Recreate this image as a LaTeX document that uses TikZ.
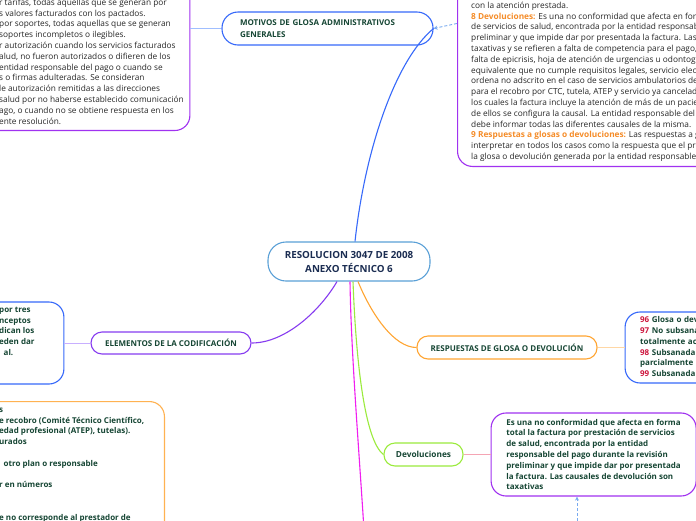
\documentclass[tikz,border=0pt]{standalone}
\usepackage{fontspec}
\setmainfont{Open Sans}
\usepackage{xcolor}
\usetikzlibrary{arrows.meta, positioning, calc}

\definecolor{txtgreen}{RGB}{22,70,52}
\definecolor{txtnavy}{RGB}{27,45,82}
\definecolor{txtgray}{RGB}{38,38,38}
\definecolor{hdorange}{RGB}{245,140,40}
\definecolor{numred}{RGB}{205,20,60}
\definecolor{rootblue}{RGB}{90,160,215}
\definecolor{mmblue}{RGB}{55,105,250}
\definecolor{mmviolet}{RGB}{135,60,240}
\definecolor{mmpurple}{RGB}{160,50,240}
\definecolor{mmmagenta}{RGB}{240,30,240}
\definecolor{mmgreen}{RGB}{155,235,60}
\definecolor{mmorange}{RGB}{255,165,50}
\definecolor{stubblue}{RGB}{160,190,255}
\definecolor{stubviolet}{RGB}{200,175,255}
\definecolor{stuborange}{RGB}{255,215,165}
\definecolor{stubpink}{RGB}{245,165,180}
\definecolor{linkblue}{RGB}{120,170,240}

\newcommand{\glosahd}[1]{\textcolor{hdorange}{\bfseries #1}}
\newcommand{\codenum}[1]{\textcolor{numred}{#1}}

\tikzset{
  rootnode/.style={rectangle, rounded corners=18pt, draw=rootblue, line width=1.1pt, fill=white,
                   minimum width=162pt, minimum height=39pt, align=center,
                   font=\fontsize{9.8}{14}\selectfont\bfseries, text=txtnavy},
  topic/.style={rectangle, rounded corners=11pt, line width=1.1pt, fill=white, minimum height=23pt,
                inner sep=2pt, font=\fontsize{8}{12}\selectfont\bfseries, text=txtgreen},
  card/.style={rectangle, rounded corners=15pt, line width=1.1pt, fill=white},
  cardtext/.style={inner sep=0pt, align=left, anchor=north west,
                   font=\fontsize{8}{10.8}\selectfont\bfseries, text=txtgreen},
  notetext/.style={inner sep=0pt, align=left, anchor=north west,
                   font=\fontsize{8.3}{10.8}\selectfont, text=txtgray},
  branch/.style={line width=1.1pt},
  stub/.style={line width=1pt},
  linkarrow/.style={densely dashed, draw=linkblue, line width=0.9pt, -{Stealth[length=4pt, width=4pt]}},
}

\begin{document}
\begin{tikzpicture}[x=1pt, y=-1pt]
  \useasboundingbox (0,0) rectangle (696,520);
  \fill[white] (0,0) rectangle (696,520);
  \clip (0,0) rectangle (696,520);

  % central topic and main branches
  \node[rootnode] (root) at (349,261.5) {RESOLUCION 3047 DE 2008\\ANEXO TÉCNICO 6};
  \node[topic, draw=mmblue, rounded corners=16pt, minimum width=211pt, minimum height=33pt,
        inner xsep=18pt, text width=175pt, align=left] (motivos) at (327.5,28.5)
        {MOTIVOS DE GLOSA ADMINISTRATIVOS\\GENERALES};
  \node[topic, draw=mmviolet, minimum width=160pt, minimum height=22pt] (elementos) at (171,343)
        {ELEMENTOS DE LA CODIFICACIÓN};
  \node[topic, draw=mmorange, minimum width=180pt] (respuestas) at (507,347.5)
        {RESPUESTAS DE GLOSA O DEVOLUCIÓN};
  \node[topic, draw=mmgreen, minimum width=79pt, font=\fontsize{8.3}{11}\selectfont\bfseries] (devol) at (423.5,454.5)
        {Devoluciones};

  % cards
  \node[card, draw=mmpurple, minimum width=441pt, minimum height=204pt, left=31pt of motivos] (tlbox) {};
  \node[card, draw=mmpurple, minimum width=400pt, minimum height=286pt, anchor=south west] (trbox) at (457,167) {};
  \node[card, draw=mmblue, minimum width=200pt, minimum height=82pt, left=26pt of elementos] (lbox) {};
  \node[card, draw=mmorange!85, minimum width=300pt, minimum height=200pt, anchor=north east] (blbox) at (165,401) {};
  \node[card, draw=mmblue, inner xsep=15pt, text width=260pt, minimum height=71pt, align=left,
        font=\fontsize{8}{10.8}\selectfont\bfseries, text=txtgreen, right=27pt of respuestas] (rbox)
        {\codenum{96} Glosa o devolución injustificada\\
         \codenum{97} No subsanada (Glosa o devolución\\
         totalmente aceptada)\\
         \codenum{98} Subsanada parcial (Glosa o devolución\\
         parcialmente aceptada)\\
         \codenum{99} Subsanada (Glosa o devolución no aceptada)};
  \node[card, draw=mmpurple, minimum width=205pt, minimum height=83pt, align=left,
        font=\fontsize{8}{10.8}\selectfont\bfseries, text=txtgreen, right=27pt of devol] (dbox)
        {Es una no conformidad que afecta en forma\\
         total la factura por prestación de servicios\\
         de salud, encontrada por la entidad\\
         responsable del pago durante la revisión\\
         preliminar y que impide dar por presentada\\
         la factura. Las causales de devolución son\\
         taxativas};

  % card texts cut by the frame
  \node[notetext] (tltext) at (-1,-2.4)
        {\strut r tarifas, todas aquellas que se generan por\\
         s valores facturados con los pactados.\\
         por soportes, todas aquellas que se generan\\
         soportes incompletos o ilegibles.\\
         r autorización cuando los servicios facturados\\
         alud, no fueron autorizados o difieren de los\\
         entidad responsable del pago o cuando se\\
         s o firmas adulteradas. Se consideran\\
         le autorización remitidas a las direcciones\\
         salud por no haberse establecido comunicación\\
         ago, o cuando no se obtiene respuesta en los\\
         ente resolución.};
  \node[notetext] (trtext) at (471,0.6)
        {\strut con la atención prestada.\\
         \glosahd{8 Devoluciones:} Es una no conformidad que afecta en forma\\
         de servicios de salud, encontrada por la entidad responsable\\
         preliminar y que impide dar por presentada la factura. Las causales\\
         taxativas y se refieren a falta de competencia para el pago, tales\\
         falta de epicrisis, hoja de atención de urgencias u odontograma\\
         equivalente que no cumple requisitos legales, servicio electivo\\
         ordena no adscrito en el caso de servicios ambulatorios de\\
         para el recobro por CTC, tutela, ATEP y servicio ya cancelado\\
         los cuales la factura incluye la atención de más de un paciente\\
         de ellos se configura la causal. La entidad responsable del pago\\
         debe informar todas las diferentes causales de la misma.\\
         \glosahd{9 Respuestas a glosas o devoluciones:} Las respuestas a glosas\\
         interpretar en todos los casos como la respuesta que el prestador\\
         la glosa o devolución generada por la entidad responsable del};
  \node[cardtext] (ltext) at (-1,304.6)
        {\strut por tres\\
         nceptos\\
         dican los\\
         eden dar\\
         \hspace*{4.5pt}al.};
  \node[cardtext] (bltext) at (-1,404.6)
        {\strut s\\
         e recobro (Comité Técnico Científico,\\
         edad profesional (ATEP), tutelas).\\
         urados\\
         \\
         \hspace*{4.5pt}otro plan o responsable\\
         \\
         r en números\\
         \\
         \\
         e no corresponde al prestador de};

  \coordinate (magend) at (364,530);
  \coordinate (dashend) at (577,526);

  % branches from the central topic
  \draw[branch, mmblue] ($(root.north)+(6,0)$) .. controls +(10,-92) and +(-38,31.5) .. (motivos.east);
  \draw[branch, mmviolet] ($(root.south)+(-12,0)$) .. controls +(-17,29) and +(34,0) .. (elementos.east);
  \draw[branch, mmmagenta] ($(root.south)+(1,0)$) .. controls +(1,70) and +(-5,-80) .. (magend);
  \draw[branch, mmgreen] ($(root.south)+(4,0)$) .. controls +(3,79) and +(-19,-14.5) .. (devol.west);
  \draw[branch, mmorange] ($(root.south)+(9,0)$) .. controls +(14,34) and +(-22,0) .. (respuestas.west);

  % short links to the cards
  \draw[stub, stubblue] (tlbox.east) -- (motivos.west);
  \draw[stub, stubviolet] (lbox.east) -- (elementos.west);
  \draw[stub, stuborange] (respuestas.east) -- (rbox.west);
  \draw[stub, stubpink] (devol.east) -- (dbox.west);

  \draw[linkarrow] (trbox.west) -- (motivos.east);
  \draw[linkarrow] (dashend) -- (dashend |- dbox.south);
\end{tikzpicture}
\end{document}
